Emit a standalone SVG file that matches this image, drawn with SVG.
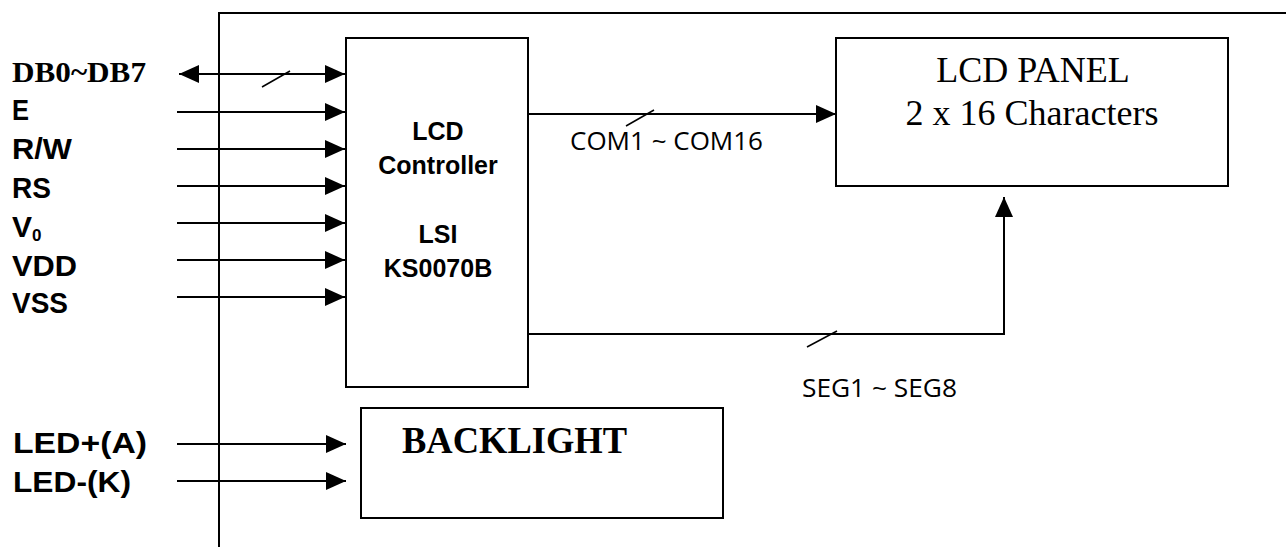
<svg xmlns="http://www.w3.org/2000/svg" width="1286" height="547" viewBox="0 0 1286 547">
<style>
.box{fill:#fff;stroke:#000;stroke-width:2}
.ln{fill:none;stroke:#000;stroke-width:2}
.sl{fill:none;stroke:#000;stroke-width:1.5}
.lbl{font-family:"Liberation Sans",Arial,sans-serif;font-weight:bold;font-size:30px;fill:#000}
.ctl{font-family:"Liberation Sans",Arial,sans-serif;font-weight:bold;font-size:25px;fill:#000}
.ser{font-family:"Liberation Serif","Times New Roman",serif;fill:#000}
.thin{font-family:"Open Sans","Noto Sans",sans-serif;font-size:25px;fill:#000}
</style>
<defs>
<marker id="ah" viewBox="0 0 20 18" refX="20" refY="9" markerWidth="20" markerHeight="18" markerUnits="userSpaceOnUse" orient="auto-start-reverse">
<path d="M0,0 L20,9 L0,18 Z" fill="#000"/>
</marker>
</defs>
<g id="frame">
<line class="ln" x1="218" y1="13" x2="1286" y2="13"/>
<line class="ln" x1="219" y1="12" x2="219" y2="547"/>
</g>
<g id="controller">
<rect class="box" x="346" y="38" width="182" height="349"/>
<text class="ctl" x="438" y="140" text-anchor="middle">LCD</text>
<text class="ctl" x="438" y="174" text-anchor="middle">Controller</text>
<text class="ctl" x="438" y="243" text-anchor="middle">LSI</text>
<text class="ctl" x="438" y="277" text-anchor="middle">KS0070B</text>
</g>
<g id="lcd-panel">
<rect class="box" x="836" y="38" width="392" height="148"/>
<text class="ser" x="1033" y="82" text-anchor="middle" font-size="36">LCD PANEL</text>
<text class="ser" x="1032" y="125" text-anchor="middle" font-size="36">2 x 16 Characters</text>
</g>
<g id="backlight">
<rect class="box" x="361" y="408" width="362" height="110"/>
<text class="ser" x="402" y="453" font-size="37" font-weight="bold" textLength="225" lengthAdjust="spacingAndGlyphs">BACKLIGHT</text>
</g>
<g id="labels">
<text class="ser" x="12" y="82" font-size="29" font-weight="bold" textLength="134" lengthAdjust="spacingAndGlyphs">DB0~DB7</text>
<text class="lbl" x="12" y="120" font-size="27" textLength="17" lengthAdjust="spacingAndGlyphs">E</text>
<text class="lbl" x="12" y="159" textLength="60" lengthAdjust="spacingAndGlyphs">R/W</text>
<text class="lbl" x="12" y="198" textLength="39" lengthAdjust="spacingAndGlyphs">RS</text>
<text class="lbl" x="12" y="237">V<tspan font-size="17" dy="4">0</tspan></text>
<text class="lbl" x="12" y="276" textLength="65" lengthAdjust="spacingAndGlyphs">VDD</text>
<text class="lbl" x="12" y="313" textLength="56" lengthAdjust="spacingAndGlyphs">VSS</text>
<text class="lbl" x="13" y="453" textLength="134" lengthAdjust="spacingAndGlyphs">LED+(A)</text>
<text class="lbl" x="13" y="492" textLength="118" lengthAdjust="spacingAndGlyphs">LED-(K)</text>
<text class="thin" x="570" y="150" textLength="193" lengthAdjust="spacingAndGlyphs">COM1 ~ COM16</text>
<text class="thin" x="802" y="397" textLength="155" lengthAdjust="spacingAndGlyphs">SEG1 ~ SEG8</text>
</g>
<g id="connectors">
<line class="ln" x1="179" y1="74" x2="345" y2="74" marker-start="url(#ah)" marker-end="url(#ah)"/>
<line class="sl" x1="262" y1="87" x2="290" y2="71"/>
<line class="ln" x1="177" y1="112" x2="345" y2="112" marker-end="url(#ah)"/>
<line class="ln" x1="177" y1="149" x2="345" y2="149" marker-end="url(#ah)"/>
<line class="ln" x1="177" y1="186" x2="345" y2="186" marker-end="url(#ah)"/>
<line class="ln" x1="177" y1="223" x2="345" y2="223" marker-end="url(#ah)"/>
<line class="ln" x1="177" y1="260" x2="345" y2="260" marker-end="url(#ah)"/>
<line class="ln" x1="177" y1="297" x2="345" y2="297" marker-end="url(#ah)"/>
<line class="ln" x1="177" y1="444" x2="346" y2="444" marker-end="url(#ah)"/>
<line class="ln" x1="177" y1="481" x2="346" y2="481" marker-end="url(#ah)"/>
<line class="ln" x1="528" y1="114" x2="836" y2="114" marker-end="url(#ah)"/>
<line class="sl" x1="626" y1="126" x2="654" y2="110"/>
<polyline class="ln" points="528,334 1004,334 1004,197" marker-end="url(#ah)"/>
<line class="sl" x1="807" y1="347" x2="837" y2="331"/>
</g>
</svg>
